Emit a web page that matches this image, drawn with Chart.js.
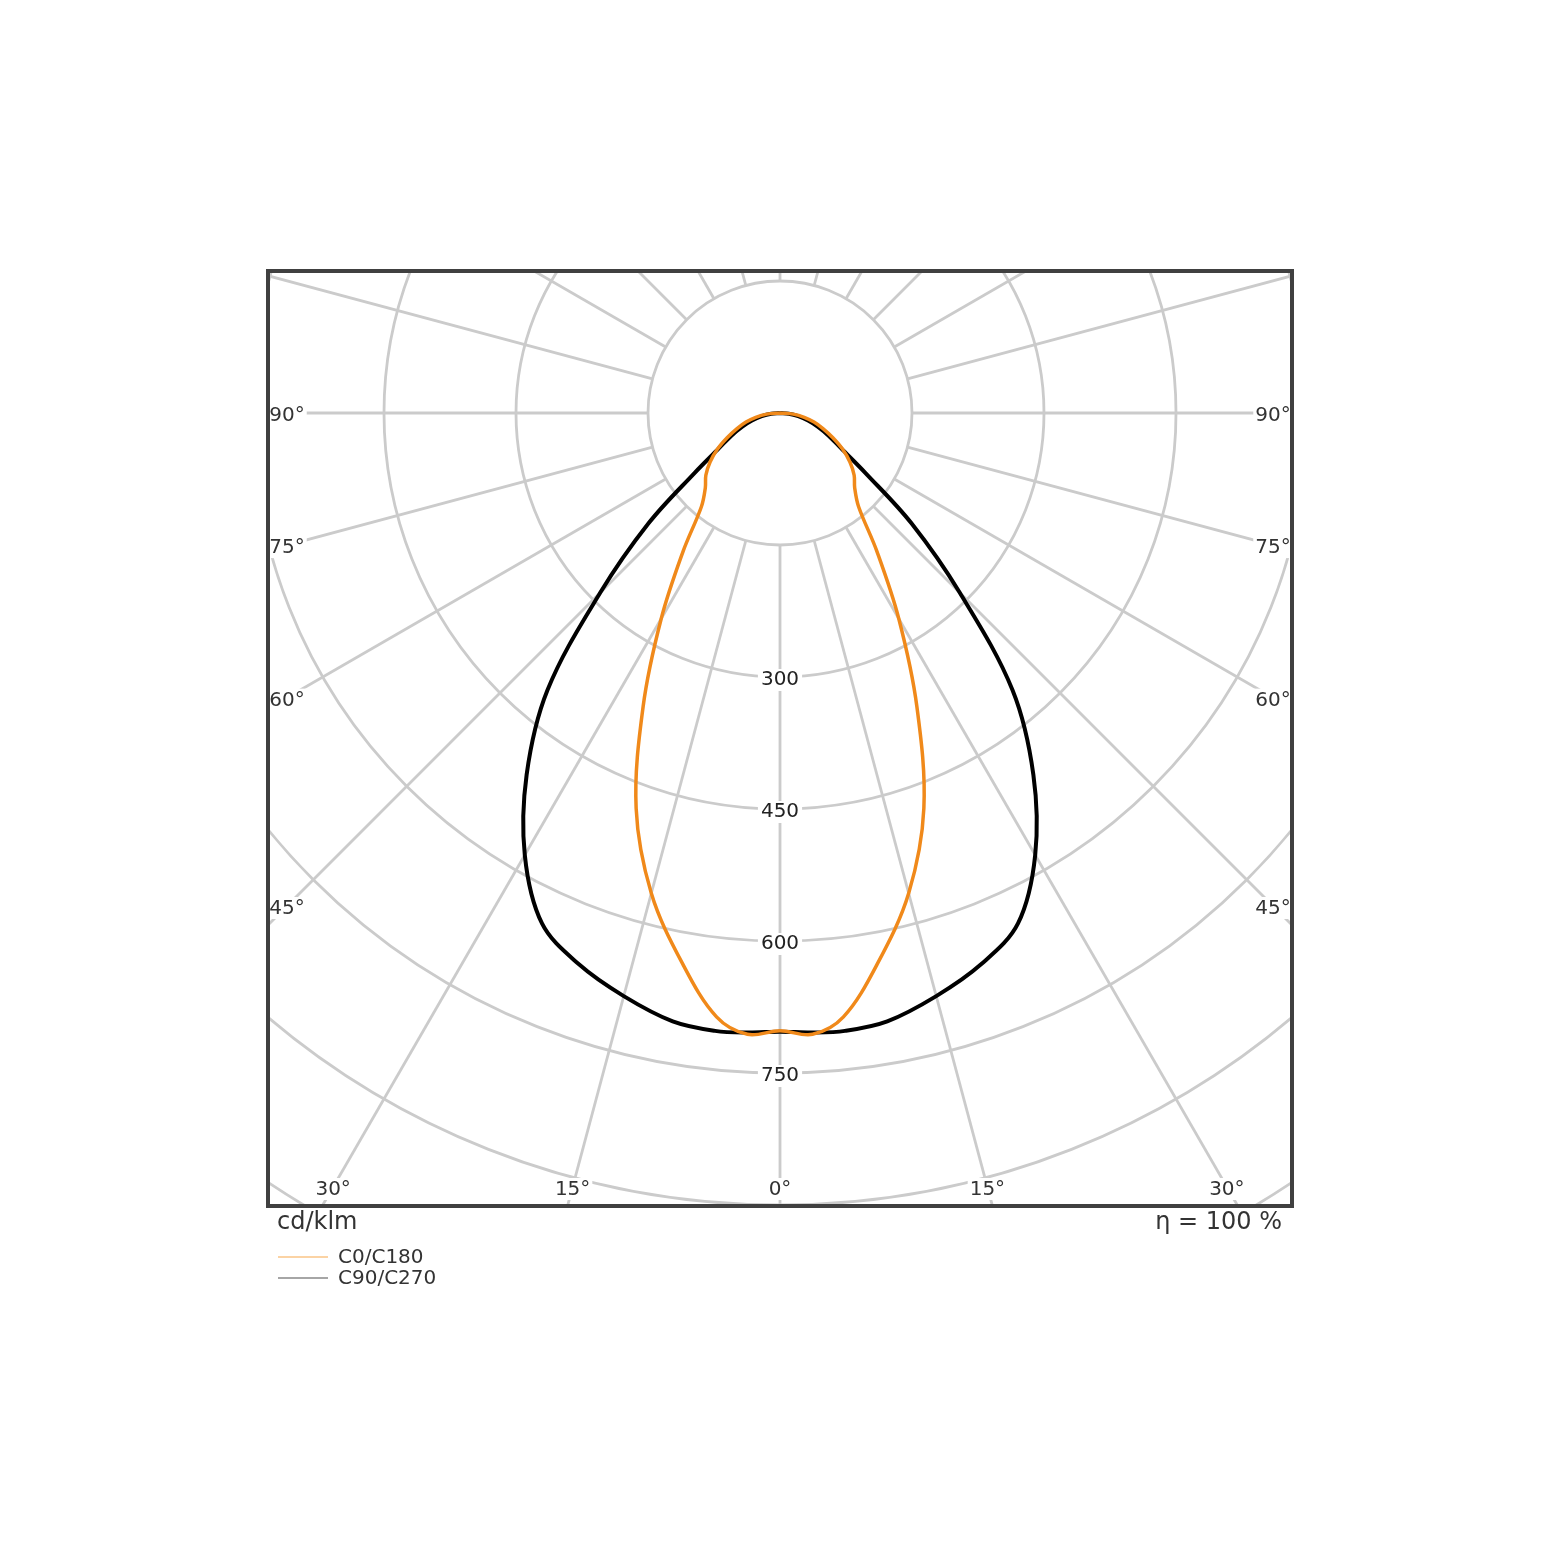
<!DOCTYPE html>
<html>
<head>
<meta charset="utf-8">
<script src="https://cdn.jsdelivr.net/npm/chart.js@4.4.0/dist/chart.umd.min.js"></script>
<style>
html, body { margin: 0; padding: 0; background: #fff; overflow: hidden; }
canvas { display: block; }
</style>
</head>
<body>
<canvas id="polar" width="1560" height="1561"></canvas>
<script>
// gamma angles from nadir (deg), each plane is symmetric left/right
const angles = [0, 3, 6, 10, 15, 20, 25, 30, 35, 40, 45, 50, 55, 60, 65, 70, 75, 80, 85, 90];
// intensities in cd/klm
const c0c180 = [702, 707, 690, 636, 565, 478, 368, 270, 192, 139, 120, 110, 97, 82, 66, 52, 40, 28, 15, 0];
const c90c270 = [703, 705, 706, 702, 686, 667, 640, 580, 502, 411, 289, 195, 118, 80, 61, 46, 33, 21, 10, 0];

const rings = [150, 300, 450, 600, 750, 900, 1050];
const ringLabels = [300, 450, 600, 750];
const angleLabels = [0, 15, 30, 45, 60, 75, 90];
const seriesNames = ['C0/C180', 'C90/C270'];
const unitText = 'cd/klm';
const effText = 'η = 100 %';

// polar values -> x/y in cd/klm (down is negative y)
function toPoints(vals) {
    let pts = [];
    for (let i = angles.length - 1; i >= 0; i--) {
        let g = angles[i] * Math.PI / 180;
        pts.push({ x: -vals[i] * Math.sin(g), y: -vals[i] * Math.cos(g) });
    }
    for (let i = 1; i < angles.length; i++) {
        let g = angles[i] * Math.PI / 180;
        pts.push({ x: vals[i] * Math.sin(g), y: -vals[i] * Math.cos(g) });
    }
    return pts;
}

const labelFont = '20px "DejaVu Sans"';
const bigFont = '24px "DejaVu Sans"';

// grid, labels and frame
const polarGrid = {
    id: 'polarGrid',
    beforeDatasetsDraw(chart) {
        const { ctx, chartArea: a, scales } = chart;
        const cx = scales.x.getPixelForValue(0);
        const cy = scales.y.getPixelForValue(0);
        const k = scales.x.getPixelForValue(1) - cx;
        ctx.save();
        ctx.beginPath();
        ctx.rect(a.left, a.top, a.right - a.left, a.bottom - a.top);
        ctx.clip();

        ctx.strokeStyle = '#cbcbcb';
        ctx.lineWidth = 2.8;
        rings.forEach(function (r) {
            ctx.beginPath();
            ctx.arc(cx, cy, r * k, 0, 2 * Math.PI);
            ctx.stroke();
        });
        for (let d = 0; d < 360; d += 15) {
            let g = d * Math.PI / 180;
            ctx.beginPath();
            ctx.moveTo(cx + Math.sin(g) * rings[0] * k, cy + Math.cos(g) * rings[0] * k);
            ctx.lineTo(cx + Math.sin(g) * 1400 * k, cy + Math.cos(g) * 1400 * k);
            ctx.stroke();
        }

        ctx.font = labelFont;
        ctx.textAlign = 'center';
        ctx.textBaseline = 'middle';

        // radius labels on the vertical axis
        ringLabels.forEach(function (v) {
            let py = cy + v * k + 3;
            let w = ctx.measureText(String(v)).width;
            ctx.fillStyle = '#fff';
            ctx.fillRect(cx - w / 2 - 3, py - 11, w + 6, 22);
            ctx.fillStyle = '#222';
            ctx.fillText(String(v), cx, py);
        });

        // angle labels along the frame
        const inset = 19;
        angleLabels.forEach(function (d) {
            let g = d * Math.PI / 180;
            let sides = d === 0 ? [1] : [-1, 1];
            sides.forEach(function (s) {
                let px, py;
                let halfW = (a.right - a.left) / 2 - inset;
                let sideY = d === 0 ? Infinity : cy + halfW / Math.tan(g);
                if (d === 90) sideY = cy;
                if (sideY < a.bottom - inset) {
                    px = cx + s * halfW;
                    py = sideY;
                } else {
                    py = a.bottom - inset;
                    px = cx + s * (py - cy) * Math.tan(g);
                }
                let txt = d + '°';
                let w = ctx.measureText(txt).width;
                ctx.fillStyle = '#fff';
                ctx.fillRect(px - w / 2 - 2, py - 9, w + 4, 22);
                ctx.fillStyle = '#333';
                ctx.fillText(txt, px, py + 3);
            });
        });
        ctx.restore();
    },
    afterDatasetsDraw(chart) {
        const { ctx, chartArea: a } = chart;
        ctx.save();
        ctx.strokeStyle = '#404040';
        ctx.lineWidth = 4;
        ctx.strokeRect(a.left, a.top, a.right - a.left, a.bottom - a.top);

        ctx.font = bigFont;
        ctx.fillStyle = '#333';
        ctx.textBaseline = 'middle';
        ctx.textAlign = 'left';
        ctx.fillText(unitText, a.left + 9, a.bottom + 17);
        ctx.textAlign = 'right';
        ctx.fillText(effText, a.right - 10, a.bottom + 17);

        // legend
        const legendColors = ['#fbd3a4', '#a6a6a6'];
        ctx.font = labelFont;
        ctx.textAlign = 'left';
        seriesNames.forEach(function (name, i) {
            let ly = a.bottom + 51 + i * 21;
            ctx.strokeStyle = legendColors[i];
            ctx.lineWidth = 2;
            ctx.beginPath();
            ctx.moveTo(a.left + 10, ly);
            ctx.lineTo(a.left + 60, ly);
            ctx.stroke();
            ctx.fillStyle = '#333';
            ctx.fillText(name, a.left + 70, ly + 1);
        });
        ctx.restore();
    }
};

const unitsPerPx = 150 / 132;
const ctx = document.getElementById('polar').getContext('2d');
const polarChart = new Chart(ctx, {
    type: 'scatter',
    data: {
        datasets: [
            {
                label: seriesNames[0],
                data: toPoints(c0c180),
                showLine: true,
                borderColor: '#f0891a',
                borderWidth: 3.5,
                pointRadius: 0,
                tension: 0.35,
                fill: false
            },
            {
                label: seriesNames[1],
                data: toPoints(c90c270),
                showLine: true,
                borderColor: '#000000',
                borderWidth: 4,
                pointRadius: 0,
                tension: 0.35,
                fill: false
            }
        ]
    },
    options: {
        responsive: false,
        devicePixelRatio: 1,
        animation: false,
        layout: { padding: { left: 268, right: 268, top: 271, bottom: 355 } },
        scales: {
            x: { type: 'linear', display: false, min: -512 * unitsPerPx, max: 512 * unitsPerPx },
            y: { type: 'linear', display: false, min: -793 * unitsPerPx, max: 142 * unitsPerPx }
        },
        plugins: {
            legend: { display: false },
            tooltip: { enabled: false }
        }
    },
    plugins: [polarGrid]
});
</script>
</body>
</html>
